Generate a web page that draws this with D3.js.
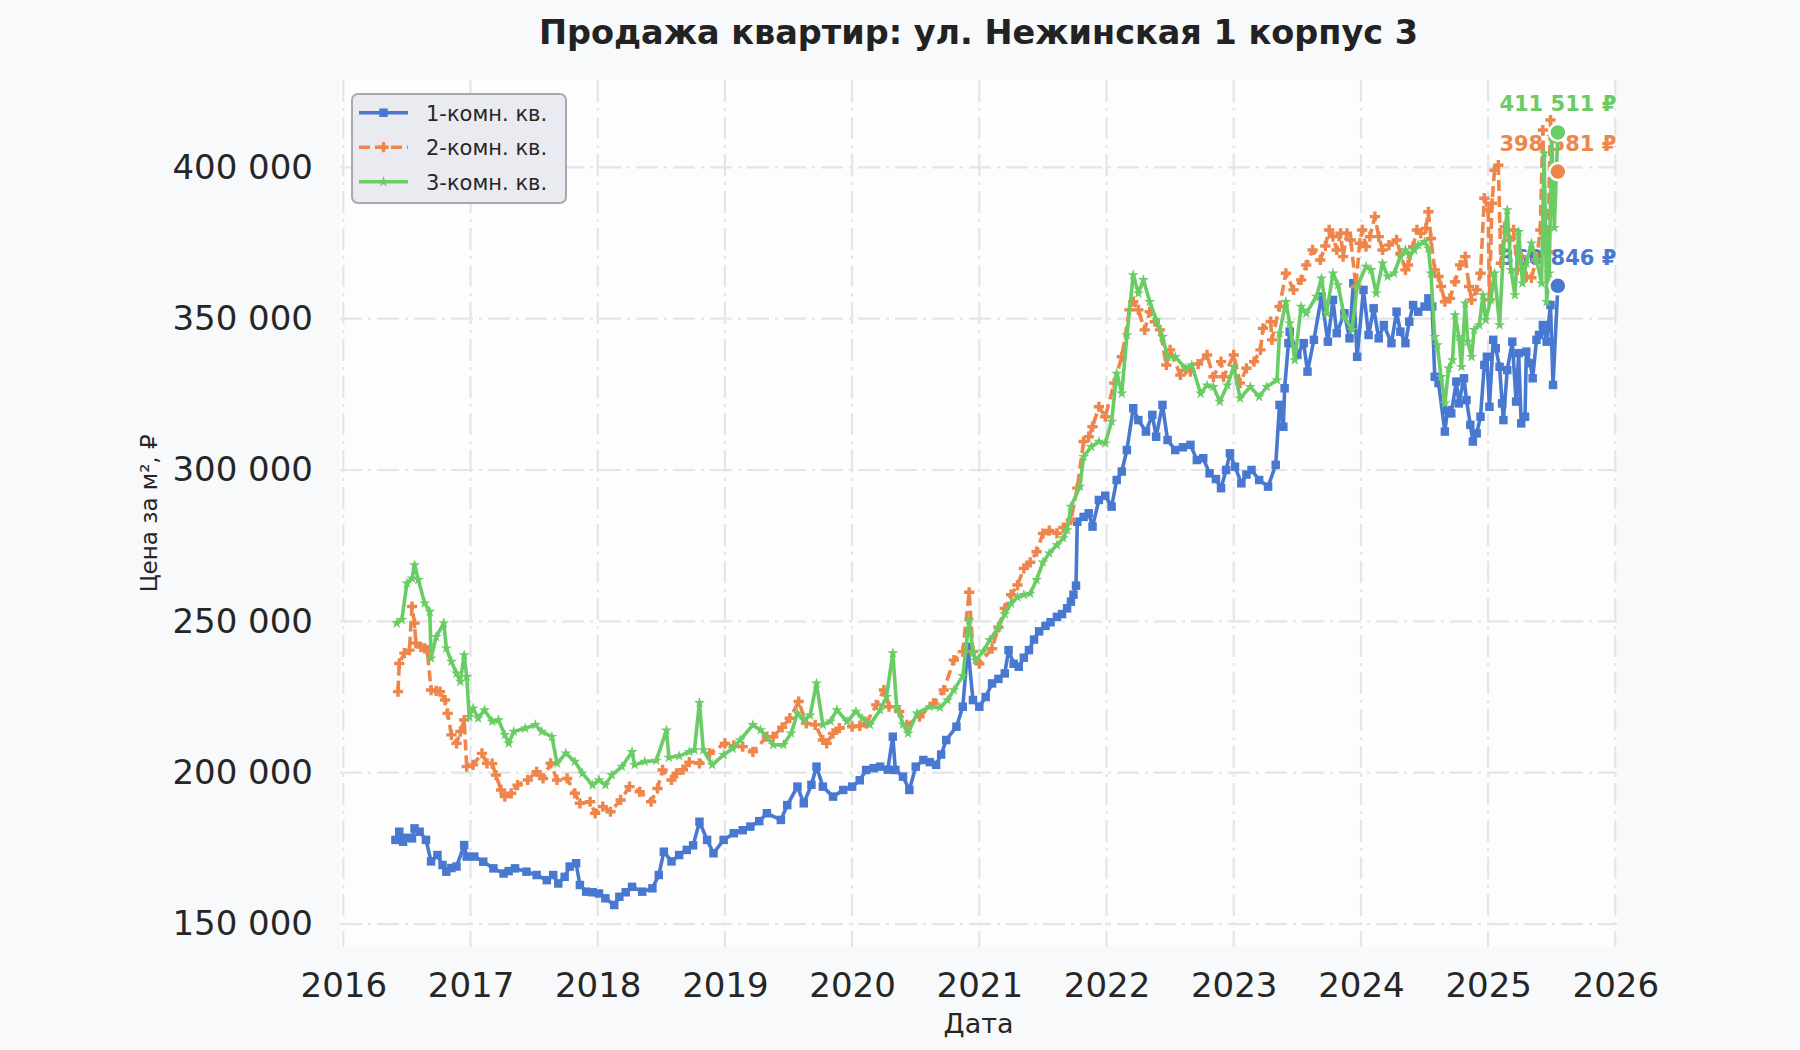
<!DOCTYPE html>
<html>
<head>
<meta charset="utf-8">
<script src="https://cdn.jsdelivr.net/npm/d3@7"></script>
<style>
  html, body { margin: 0; padding: 0; background: #f7f9fb; }
  svg { display: block; font-family: "DejaVu Sans", sans-serif; }
</style>
</head>
<body>
<svg id="chart" width="1800" height="1050"></svg>
<script>
// series names and colours (seaborn "muted")
const names = ['1-комн. кв.', '2-комн. кв.', '3-комн. кв.']
const colors = ['#4878d0', '#ee854a', '#6acc64']
const years = [2016, 2017, 2018, 2019, 2020, 2021, 2022, 2023, 2024, 2025, 2026]
const yTicks = [150000, 200000, 250000, 300000, 350000, 400000]

// 1-комн: dates as decimal years + price per m2
const t1 = [2016.41,2016.44,2016.47,2016.50,2016.54,2016.56,2016.60,2016.65,2016.69,2016.74,2016.78,2016.81,2016.85,2016.89,2016.95,2016.97,
  2017.03,2017.10,2017.18,2017.26,2017.30,2017.35,2017.44,2017.52,2017.60,2017.65,2017.69,2017.74,2017.78,2017.83,2017.86,2017.91,2017.96,
  2018.01,2018.06,2018.13,2018.17,2018.22,2018.27,2018.35,2018.43,2018.48,2018.52,2018.58,2018.64,2018.70,2018.75,2018.80,2018.86,2018.91,2018.99,
  2019.07,2019.14,2019.20,2019.27,2019.33,2019.44,2019.49,2019.57,2019.62,2019.68,2019.72,2019.77,2019.85,2019.93,
  2020.00,2020.06,2020.11,2020.17,2020.22,2020.28,2020.32,2020.34,2020.40,2020.45,2020.50,2020.56,2020.61,2020.66,2020.70,2020.74,2020.82,2020.87,2020.91,2020.95,
  2021.00,2021.05,2021.10,2021.15,2021.20,2021.23,2021.27,2021.31,2021.35,2021.39,2021.43,2021.47,2021.52,2021.56,2021.61,2021.65,2021.69,2021.72,2021.74,2021.76,2021.77,2021.82,2021.86,2021.89,2021.94,2021.99,
  2022.04,2022.08,2022.12,2022.16,2022.21,2022.25,2022.31,2022.36,2022.39,2022.44,2022.48,2022.54,2022.60,2022.66,2022.71,2022.76,2022.81,2022.86,2022.90,2022.94,2022.97,
  2023.01,2023.06,2023.10,2023.14,2023.20,2023.27,2023.33,2023.36,2023.39,2023.40,2023.43,2023.44,2023.50,2023.55,2023.58,2023.63,2023.69,2023.74,2023.78,2023.81,2023.87,2023.91,2023.94,2023.97,
  2024.02,2024.06,2024.10,2024.14,2024.18,2024.24,2024.28,2024.31,2024.35,2024.38,2024.41,2024.45,2024.50,2024.53,2024.56,2024.58,2024.61,2024.66,2024.68,2024.71,2024.75,2024.77,2024.81,2024.83,2024.86,2024.88,2024.91,2024.94,2024.97,2024.99,
  2025.01,2025.04,2025.06,2025.09,2025.11,2025.12,2025.15,2025.19,2025.22,2025.24,2025.26,2025.29,2025.30,2025.33,2025.35,2025.38,2025.40,2025.43,2025.46,2025.49,2025.51,2025.548]
const v1 = [177800,180500,177200,178500,178300,181600,180500,177800,170700,172800,169500,167300,168500,169000,176100,172300,
  172300,170600,168400,166700,167500,168400,167300,166200,164500,166200,163400,165600,169000,170100,162900,160700,160500,
  160100,158500,156300,159000,160500,162300,160700,161800,166200,173900,170700,172800,174500,176000,183800,177800,173400,177800,
  180000,181000,182200,184000,186600,184400,189300,195400,189900,196000,202000,195400,192100,194300,
  195400,197500,200900,201500,202000,201000,211900,200900,198700,194300,202000,204200,203500,202600,206000,210800,215200,221800,241600,224000,
  221800,225000,229500,231000,232800,240500,236000,235000,238000,240500,244000,246700,248500,249700,251500,252400,254300,256500,258800,261800,282900,284500,285700,281300,290100,291500,
  287900,296700,299500,306600,320400,316500,312700,318200,311000,321500,309900,306600,307500,308300,303300,303900,298900,297000,294000,300000,305500,
  301100,295600,298500,300000,296700,294500,301700,321500,314300,327000,341900,345700,338000,341900,332500,343000,357300,342400,356200,345200,351800,343500,361700,337400,
  359500,344600,353400,343500,347900,341900,352300,345700,341900,349000,354500,352300,354000,356700,354000,330800,328700,312700,319800,318700,329200,322000,330300,323100,314900,309400,312100,317600,334700,337400,
  320900,343000,340200,334100,322000,316500,333000,342400,322600,338600,315400,317600,339100,335300,330300,343000,344600,347900,342400,354500,328100,360846]

// 2-комн
const t2 = [2016.43,2016.44,2016.48,2016.52,2016.54,2016.56,2016.57,2016.61,2016.64,2016.66,2016.69,2016.73,2016.76,2016.80,2016.82,2016.85,2016.89,2016.92,2016.95,2016.97,
  2017.02,2017.09,2017.13,2017.17,2017.20,2017.24,2017.27,2017.32,2017.37,2017.45,2017.52,2017.57,2017.63,2017.68,2017.76,2017.82,2017.86,2017.94,2017.98,
  2018.04,2018.10,2018.18,2018.25,2018.33,2018.42,2018.47,2018.51,2018.58,2018.62,2018.67,2018.72,2018.80,2018.88,
  2019.00,2019.07,2019.14,2019.22,2019.33,2019.38,2019.45,2019.51,2019.58,2019.64,2019.71,2019.77,2019.80,2019.85,2019.90,
  2020.00,2020.06,2020.11,2020.19,2020.25,2020.29,2020.37,2020.43,2020.53,2020.64,2020.72,2020.80,2020.87,2020.92,2020.95,
  2021.00,2021.10,2021.15,2021.20,2021.25,2021.30,2021.35,2021.40,2021.45,2021.50,2021.55,2021.61,2021.66,2021.72,2021.77,2021.82,2021.86,2021.89,2021.94,2021.99,
  2022.06,2022.12,2022.18,2022.21,2022.25,2022.30,2022.34,2022.38,2022.42,2022.47,2022.50,2022.58,2022.62,2022.66,2022.72,2022.79,2022.84,2022.90,2022.92,
  2023.00,2023.05,2023.10,2023.16,2023.21,2023.23,2023.29,2023.30,2023.36,2023.41,2023.47,2023.53,2023.57,2023.62,2023.68,2023.72,2023.75,2023.78,2023.81,2023.84,2023.86,2023.89,2023.92,2023.96,2023.99,
  2024.01,2024.04,2024.07,2024.11,2024.14,2024.17,2024.22,2024.28,2024.31,2024.35,2024.37,2024.41,2024.44,2024.47,2024.51,2024.53,2024.55,2024.58,2024.61,2024.63,2024.66,2024.70,2024.74,2024.78,2024.82,2024.85,2024.87,2024.91,2024.94,2024.97,
  2025.00,2025.01,2025.03,2025.05,2025.08,2025.10,2025.13,2025.17,2025.20,2025.23,2025.26,2025.30,2025.34,2025.38,2025.41,2025.43,2025.45,2025.47,2025.49,2025.51,2025.548]
const v2 = [226800,236100,239500,240500,254900,249400,242800,241500,241100,240500,227300,227000,226800,224000,219600,212500,209700,213600,217400,202000,
  202600,206400,203100,203000,199200,194300,192100,193200,195900,197600,200300,198100,203100,197600,198100,193200,189900,190400,186600,
  188800,187100,191000,195400,193700,190400,194800,200900,197600,199800,201000,203500,203100,206400,
  209700,209000,208600,206900,211900,211900,215000,218000,223500,216300,215800,210800,209700,213000,214700,
  215200,215500,216300,222400,227300,221800,220200,215800,218500,222900,227300,237200,240000,259600,240000,
  236000,241000,248000,254300,258800,262000,267500,269500,273000,279000,280000,279100,281000,283500,294000,309400,311000,314300,320900,317600,
  328700,337400,352900,355600,352900,346300,352300,349000,346300,334700,339700,331400,333000,332500,335000,338000,330800,335800,330800,
  338000,328700,333600,335800,339700,346800,349000,343000,354000,365000,359500,362800,367700,372700,369400,374000,379300,377100,372700,378200,370500,378200,376000,360600,374900,
  379300,373800,377100,383700,377100,372700,374300,376000,371600,366100,367700,373800,379300,378200,379800,385300,376500,366100,363900,360600,355600,356700,362200,367700,370500,360600,356200,359500,365000,389800,
  385900,356200,388100,399000,400700,368300,380400,376000,379300,366100,370500,363900,363500,369400,379300,412300,378000,372000,415600,396000,398581]

// 3-комн
const t3 = [2016.42,2016.46,2016.50,2016.54,2016.56,2016.59,2016.64,2016.68,2016.69,2016.73,2016.79,2016.81,2016.85,2016.89,2016.92,2016.95,2016.97,2016.99,
  2017.02,2017.06,2017.11,2017.17,2017.22,2017.27,2017.30,2017.34,2017.43,2017.51,2017.56,2017.64,2017.68,2017.75,2017.82,2017.88,2017.96,
  2018.01,2018.06,2018.11,2018.19,2018.27,2018.29,2018.37,2018.46,2018.54,2018.56,2018.64,2018.72,2018.76,2018.80,2018.83,2018.90,2018.99,
  2019.06,2019.12,2019.22,2019.28,2019.38,2019.46,2019.52,2019.57,2019.62,2019.67,2019.72,2019.77,2019.83,2019.88,2019.96,
  2020.03,2020.08,2020.14,2020.22,2020.27,2020.32,2020.35,2020.40,2020.44,2020.51,2020.61,2020.69,2020.75,2020.80,2020.87,2020.92,2020.95,2020.97,
  2021.03,2021.08,2021.15,2021.20,2021.25,2021.30,2021.35,2021.40,2021.45,2021.50,2021.55,2021.61,2021.66,2021.69,2021.72,2021.79,2021.82,2021.88,2021.94,2021.99,
  2022.04,2022.08,2022.12,2022.16,2022.21,2022.25,2022.29,2022.34,2022.39,2022.44,2022.48,2022.54,2022.62,2022.67,2022.74,2022.79,2022.84,2022.89,2022.95,
  2023.00,2023.05,2023.13,2023.20,2023.26,2023.34,2023.36,2023.41,2023.44,2023.48,2023.53,2023.57,2023.65,2023.69,2023.73,2023.78,2023.82,2023.87,2023.93,2023.97,
  2024.04,2024.08,2024.12,2024.17,2024.21,2024.26,2024.31,2024.35,2024.38,2024.42,2024.45,2024.50,2024.53,2024.55,2024.58,2024.60,2024.63,2024.66,2024.69,2024.72,2024.74,2024.77,2024.79,2024.82,2024.84,2024.87,2024.89,2024.93,2024.96,2024.98,
  2025.02,2025.05,2025.09,2025.12,2025.15,2025.18,2025.21,2025.24,2025.27,2025.30,2025.34,2025.38,2025.42,2025.44,2025.46,2025.48,2025.50,2025.52,2025.548]
const v3 = [249400,250500,262600,264200,268600,263700,256000,253200,237800,244900,249400,241100,236700,232800,230100,238900,231700,218500,
  221300,218000,220700,216900,217400,212500,209700,213600,214700,215800,213600,211900,203100,206400,203700,199800,195900,
  197600,195900,199200,202000,206900,202600,203700,204000,214000,205000,205500,206900,207500,223100,207500,202600,205900,
  208000,210800,215800,214100,209200,209200,213000,219600,217400,219000,229500,215800,217000,220700,216900,
  220200,218000,215800,220700,225100,239500,221800,216000,213000,219600,221800,221500,224000,227300,232000,250400,240000,237200,
  240000,243800,248000,252400,256000,258000,258800,259200,263700,269500,272500,275200,277500,280200,287900,294500,304400,307700,309400,308800,
  316000,331900,325300,344600,364400,358400,362800,355600,349600,344000,337400,337400,333600,334700,325300,328000,327500,322600,328000,
  334100,323700,327500,324200,327500,329700,345200,355600,348500,336300,354000,351800,357300,363300,351800,365000,361100,350600,346300,360600,
  367200,366100,358400,368300,363900,365000,370500,372700,371000,372700,374300,375400,373200,365000,344000,341300,330800,322000,333600,336300,351200,344000,334100,355100,342400,337400,346300,347900,357800,349600,
  356200,365000,347900,372700,385900,366100,357800,378700,361700,368300,374900,369400,361700,404600,355600,365000,410100,380000,411511]

const tData = [t1, t2, t3]
const vData = [v1, v2, v3]

const svg = d3.select('#chart')
const pLeft = 340, pRight = 1617, pTop = 80, pBottom = 946.7

// scales: x in decimal years, y in rubles
const x = d3.scaleLinear().domain([2015.974, 2026.013]).range([pLeft, pRight])
const y = d3.scaleLinear().domain([142520, 428840]).range([pBottom, pTop])

svg.append('rect').attr('width', 1800).attr('height', 1050).attr('fill', '#f7f9fb')
svg.append('rect').attr('x', pLeft).attr('y', pTop).attr('width', pRight - pLeft).attr('height', pBottom - pTop)
  .attr('fill', '#fdfdfe')

// grid (dash-dot)
const grid = svg.append('g').attr('stroke', '#e4e5e8').attr('stroke-width', 2.2)
  .attr('stroke-dasharray', '22,6,3,6')
grid.selectAll('.gx').data(years).enter().append('line')
  .attr('x1', d => x(d)).attr('x2', d => x(d)).attr('y1', pTop).attr('y2', pBottom)
grid.selectAll('.gy').data(yTicks).enter().append('line')
  .attr('y1', d => y(d)).attr('y2', d => y(d)).attr('x1', pLeft).attr('x2', pRight)

// axes
const fmt = v => d3.format(',')(v).replace(/,/g, ' ')
const xAxis = svg.append('g').attr('transform', `translate(0,${pBottom})`)
  .call(d3.axisBottom(x).tickValues(years).tickFormat(d3.format('d')).tickSize(0).tickPadding(26))
const yAxis = svg.append('g').attr('transform', `translate(${pLeft},0)`)
  .call(d3.axisLeft(y).tickValues(yTicks).tickFormat(fmt).tickSize(0).tickPadding(27))
;[xAxis, yAxis].forEach(a => {
  a.select('.domain').remove()
  a.selectAll('text').attr('font-size', 34).attr('fill', '#262626').attr('font-family', 'DejaVu Sans')
})

// titles
svg.append('text').attr('x', (pLeft + pRight) / 2).attr('y', 44).attr('text-anchor', 'middle')
  .attr('font-size', 33.5).attr('font-weight', 'bold').attr('fill', '#222')
  .text('Продажа квартир: ул. Нежинская 1 корпус 3')
svg.append('text').attr('x', (pLeft + pRight) / 2).attr('y', 1033).attr('text-anchor', 'middle')
  .attr('font-size', 27).attr('fill', '#262626').text('Дата')
svg.append('text').attr('transform', `translate(157,${(pTop + pBottom) / 2}) rotate(-90)`)
  .attr('text-anchor', 'middle').attr('font-size', 23).attr('fill', '#262626').text('Цена за м², ₽')

// end labels (under the lines)
const lastIdx = vData.map(v => v.length - 1)
vData.forEach((v, i) => {
  const t = tData[i], k = lastIdx[i]
  svg.append('text').attr('x', x(t[k])).attr('y', y(v[k]) - 21).attr('text-anchor', 'middle')
    .attr('font-size', 21).attr('font-weight', 'bold').attr('fill', colors[i])
    .text(fmt(v[k]) + ' ₽')
})

// lines and markers
const symbols = [d3.symbol(d3.symbolSquare, 72), d3.symbol(d3.symbolCross, 58), d3.symbol(d3.symbolStar, 38)]
vData.forEach((v, i) => {
  const t = tData[i]
  const pts = v.map((d, j) => [t[j], d])
  const line = d3.line().x(d => x(d[0])).y(d => y(d[1]))
  svg.append('path').datum(pts).attr('d', line).attr('fill', 'none')
    .attr('stroke', colors[i]).attr('stroke-width', 3.6).attr('stroke-linejoin', 'round')
    .attr('stroke-dasharray', i === 1 ? '11,5' : null)
  svg.append('g').selectAll('path').data(pts).enter().append('path')
    .attr('transform', d => `translate(${x(d[0])},${y(d[1])})`)
    .attr('d', symbols[i]).attr('fill', colors[i])
})

// end dots
vData.forEach((v, i) => {
  const t = tData[i], k = lastIdx[i]
  svg.append('circle').attr('cx', x(t[k])).attr('cy', y(v[k])).attr('r', 8.5)
    .attr('fill', colors[i]).attr('stroke', '#fff').attr('stroke-width', 2.5)
})

// legend
const lg = svg.append('g').attr('transform', 'translate(352,94)')
lg.append('rect').attr('width', 214).attr('height', 109).attr('rx', 6)
  .attr('fill', '#eaebf1').attr('stroke', '#a9a9ad').attr('stroke-width', 2)
names.forEach((n, i) => {
  const ry = 18.7 + i * 34.5
  lg.append('line').attr('x1', 7).attr('x2', 56).attr('y1', ry).attr('y2', ry)
    .attr('stroke', colors[i]).attr('stroke-width', 3.6)
    .attr('stroke-dasharray', i === 1 ? '11,5' : null)
  lg.append('path').attr('transform', `translate(31.5,${ry})`).attr('d', symbols[i]).attr('fill', colors[i])
  lg.append('text').attr('x', 74).attr('y', ry + 8).attr('font-size', 21).attr('fill', '#262626').text(n)
})
</script>
</body>
</html>
